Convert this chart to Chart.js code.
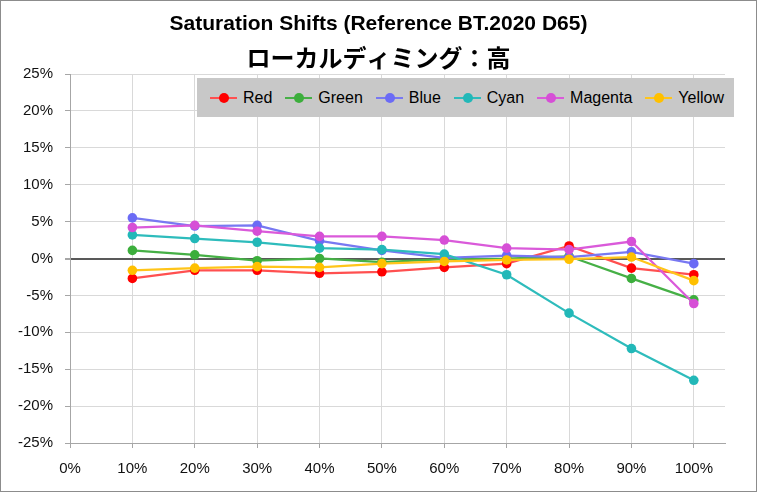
<!DOCTYPE html>
<html>
<head>
<meta charset="utf-8">
<script src="https://cdn.jsdelivr.net/npm/chart.js@4"></script>
<style>
  body { margin: 0; background: #fff; }
  #wrap { position: relative; width: 757px; height: 492px; box-sizing: border-box; border: 1px solid #8c8c8c; }
  #legend {
    position: absolute; left: 196px; top: 77px; width: 537px; height: 39px;
    background: #c8c8c8; display: flex; align-items: center; justify-content: space-between;
    box-sizing: border-box; padding: 0 10px 0 13px;
    font-family: "Liberation Sans", Arial, sans-serif; font-size: 16px; color: #000;
  }
  .item { display: flex; align-items: center; }
  .mk { position: relative; width: 27px; height: 2px; margin-right: 6px; }
  .mk::after { content: ""; position: absolute; left: 9px; top: -4px; width: 10px; height: 10px; border-radius: 50%; background: var(--pt); }
</style>
</head>
<body>
<div id="wrap">
  <canvas id="myChart" width="755" height="490"></canvas>
  <div id="legend"></div>
</div>
<script>
"use strict";
const ctx = document.getElementById('myChart');

// luminance steps (%) and saturation shift (%) per color
const steps = [10, 20, 30, 40, 50, 60, 70, 80, 90, 100];
const red     = [-2.7, -1.6, -1.6, -2.0, -1.8, -1.2, -0.7, 1.7, -1.3, -2.2];
const green   = [1.1, 0.5, -0.3, 0.0, -0.5, -0.1, 0.0, 0.3, -2.7, -5.6];
const blue    = [5.5, 4.4, 4.5, 2.4, 1.1, 0.1, 0.4, 0.2, 0.9, -0.7];
const cyan    = [3.2, 2.7, 2.2, 1.4, 1.2, 0.6, -2.2, -7.4, -12.2, -16.5];
const magenta = [4.2, 4.5, 3.7, 3.0, 3.0, 2.5, 1.4, 1.2, 2.3, -6.1];
const yellow  = [-1.6, -1.3, -1.1, -1.2, -0.7, -0.4, -0.2, -0.1, 0.2, -3.0];

const names = ['Red', 'Green', 'Blue', 'Cyan', 'Magenta', 'Yellow'];
const series = [red, green, blue, cyan, magenta, yellow];
const pointColors = ['#ff0000', '#3cae3c', '#6b6bf5', '#22b8b8', '#d64fd6', '#ffc000'];
const lineColors = ['#ff5050', '#46b046', '#7878f2', '#2ebcbc', '#da5ada', '#ffc51a'];

const yTicks = [-25, -20, -15, -10, -5, 0, 5, 10, 15, 20, 25];

const tickFont = { family: "'Liberation Sans', Arial, sans-serif", size: 15 };

const datasets = series.map((vals, i) => ({
  label: names[i],
  data: vals.map((v, j) => ({ x: steps[j], y: v })),
  borderColor: lineColors[i],
  backgroundColor: pointColors[i],
  pointBackgroundColor: pointColors[i],
  pointBorderColor: pointColors[i],
  pointBorderWidth: 0,
  pointRadius: 4.8,
  borderWidth: 2.25,
  showLine: true,
  order: series.length - i
}));

// titles are centred on the whole canvas, not on the padded layout
const centerTitles = {
  id: 'centerTitles',
  afterLayout(chart) {
    chart.boxes.forEach(b => {
      if (b.position === 'top' && b.options && b.options.text !== undefined) {
        b.left = 0;
        b.right = chart.width;
      }
    });
  }
};

let myChart = new Chart(ctx, {
  type: 'scatter',
  data: { datasets: datasets },
  plugins: [centerTitles],
  options: {
    responsive: false,
    animation: false,
    layout: { padding: { left: 0, right: 31, top: 0, bottom: 0 } },
    plugins: {
      legend: { display: false },
      tooltip: { enabled: false },
      title: {
        display: true,
        text: 'Saturation Shifts (Reference BT.2020 D65)',
        color: '#000',
        font: { family: "'Liberation Sans Narrow', 'Liberation Sans', Arial, sans-serif", size: 21, weight: 'bold', lineHeight: 1.2 },
        padding: { top: 11, bottom: 2 }
      },
      subtitle: {
        display: true,
        text: 'ローカルディミング：高',
        color: '#000',
        font: { family: "'Noto Sans CJK JP', sans-serif", size: 24, weight: 'bold', lineHeight: 1.2 },
        padding: { top: 4, bottom: 2 }
      }
    },
    scales: {
      x: {
        type: 'linear',
        min: 0,
        max: 105,
        afterBuildTicks: (scale) => { scale.ticks = [0].concat(steps).map(v => ({ value: v })); },
        afterFit: (scale) => { scale.height = 48; },
        ticks: { color: '#111', font: tickFont, padding: 12, maxRotation: 0, callback: (v) => v + '%' },
        grid: { color: '#d9d9d9', tickColor: '#a6a6a6', tickLength: 5 },
        border: { color: '#a6a6a6' }
      },
      y: {
        min: -25,
        max: 25,
        afterBuildTicks: (scale) => { scale.ticks = yTicks.map(v => ({ value: v })); },
        afterFit: (scale) => { scale.width = 69; },
        ticks: { color: '#111', font: tickFont, padding: 12, callback: (v) => v + '%' },
        grid: {
          color: (c) => c.tick && c.tick.value === 0 ? '#595959' : '#d9d9d9',
          lineWidth: (c) => c.tick && c.tick.value === 0 ? 2 : 1,
          tickColor: '#a6a6a6',
          tickLength: 5
        },
        border: { color: '#a6a6a6' }
      }
    }
  }
});

// legend drawn as html over the plot
const legendBox = document.getElementById('legend');
names.forEach((name, i) => {
  const item = document.createElement('div');
  item.className = 'item';
  const mk = document.createElement('span');
  mk.className = 'mk';
  mk.style.background = lineColors[i];
  mk.style.setProperty('--pt', pointColors[i]);
  const txt = document.createElement('span');
  txt.textContent = name;
  item.appendChild(mk);
  item.appendChild(txt);
  legendBox.appendChild(item);
});
</script>
</body>
</html>
